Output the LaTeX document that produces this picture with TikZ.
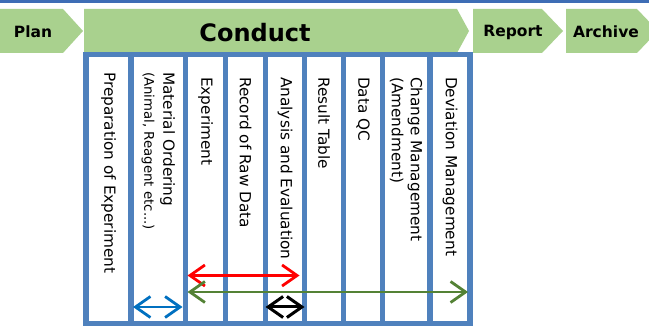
\documentclass[tikz,border=0pt]{standalone}
\usepackage{fontspec}
\setmainfont{DejaVu Sans}
\usetikzlibrary{arrows.meta}
\definecolor{phasegreen}{HTML}{A9D18E}
\definecolor{framebl}{HTML}{4F81BD}
\definecolor{topbl}{HTML}{3E6DB5}
\definecolor{arrgreen}{HTML}{548235}
\definecolor{arrblue}{HTML}{0070C0}
\begin{document}
\begin{tikzpicture}[x=1pt,y=-1pt,
  phase/.style={fill=phasegreen,draw=none},
  phaselbl/.style={font=\bfseries\fontsize{15.5}{15.5}\selectfont},
  col/.style={draw=framebl,line width=5.5pt,fill=white,inner sep=0pt,outer sep=0pt,minimum height=269pt},
  lbl/.style={rotate=-90,anchor=west,inner sep=0pt,align=left,font=\fontsize{15.3}{19}\selectfont},
  span/.style={line width=2.8pt,{Straight Barb[length=15pt,width=21pt]}-{Straight Barb[length=15pt,width=21pt]}}]
\useasboundingbox (0,0) rectangle (649,326);
\clip (0,0) rectangle (649,326);
% top rule
\draw[topbl,line width=3pt] (0,1.5) -- (649,1.5);

% phases
\fill[phase] (0,9) -- (63,9) -- (83,31) -- (63,53) -- (0,53) -- cycle;
\node[phaselbl] (plan) at (33,32) {Plan};
\fill[phase] (84,9) -- (457,9) -- (469,31) -- (457,53) -- (84,53) -- cycle;
\node[font=\bfseries\fontsize{24}{24}\selectfont] (conduct) at (255,33) {Conduct};
\fill[phase] (473,9) -- (542,9) -- (563,31) -- (542,53) -- (473,53) -- cycle;
\node[phaselbl] (report) at (513,32) {Report};
\fill[phase] (566,9) -- (637,9) -- (658,31) -- (637,53) -- (566,53) -- cycle;
\node[phaselbl] (archive) at (606,32) {Archive};

% conduct columns
\node[col,minimum width=45pt] (prep) at (108.5,189) {};
\node[col,minimum width=54.5pt] (mat) at (158.25,189) {};
\node[col,minimum width=40pt] (exp) at (205.5,189) {};
\node[col,minimum width=40pt] (raw) at (245.5,189) {};
\node[col,minimum width=39pt] (ana) at (285,189) {};
\node[col,minimum width=39pt] (res) at (324,189) {};
\node[col,minimum width=39pt] (qc) at (363,189) {};
\node[col,minimum width=47.5pt] (chg) at (406.25,189) {};
\node[col,minimum width=40pt] (dev) at (450,189) {};

\node[lbl] (preptxt) at (prep.north |- 0,72) {Preparation of Experiment};
\node[lbl] (mattxt) at (mat.north |- 0,72) {Material Ordering\\{\fontsize{13.3}{19}\selectfont(Animal, Reagent etc...)}};
\node[lbl] (exptxt) at (exp.north |- 0,77) {Experiment};
\node[lbl] (rawtxt) at (raw.north |- 0,77) {Record of Raw Data};
\node[lbl] (anatxt) at (ana.north |- 0,77) {Analysis and Evaluation};
\node[lbl] (restxt) at (res.north |- 0,77) {Result Table};
\node[lbl] (qctxt) at (qc.north |- 0,77) {Data QC};
\node[lbl] (chgtxt) at (chg.north |- 0,77) {Change Management\\(Amendment)};
\node[lbl] (devtxt) at (dev.north |- 0,77) {Deviation Management};

% spans
\draw[span,red,shorten >=5pt,shorten <=2pt] (exp.west |- 0,275.5) -- (ana.east |- 0,275.5);
\draw[span,arrgreen,shorten <=2pt,shorten >=2pt] (exp.west |- 0,292) -- (dev.east |- 0,292);
\draw[span,arrblue,shorten <=2pt,shorten >=3pt] (mat.west |- 0,307) -- (mat.east |- 0,307);
\draw[span,black,line width=3pt] (ana.west |- 0,307) -- (ana.east |- 0,307);
\end{tikzpicture}
\end{document}
